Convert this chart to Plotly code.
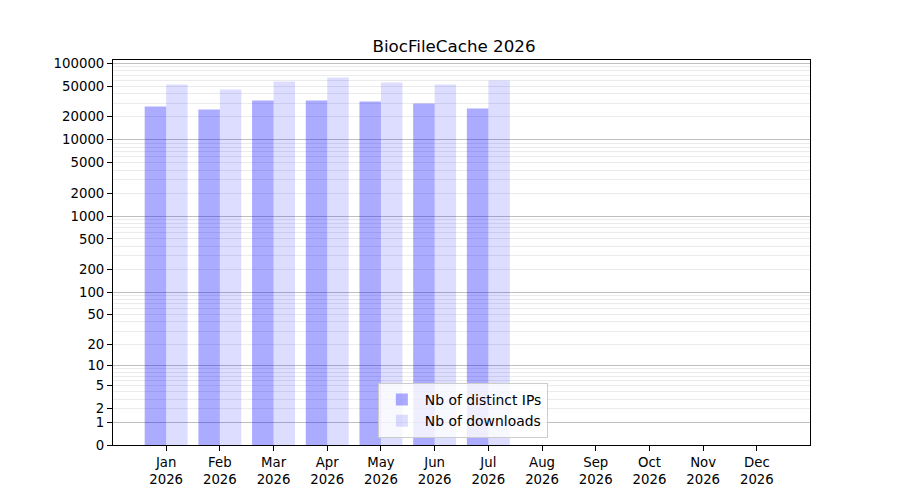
import plotly.graph_objects as go

months = ["Jan", "Feb", "Mar", "Apr", "May", "Jun", "Jul", "Aug", "Sep", "Oct", "Nov", "Dec"]
year = "2026"
nb_ips = [27200, 24900, 32600, 32600, 31700, 29800, 25600, None, None, None, None, None]
nb_downloads = [52900, 45500, 57900, 65300, 56200, 52900, 59700, None, None, None, None, None]

tick_values = [0, 1, 2, 5, 10, 20, 50, 100, 200, 500, 1000, 2000, 5000, 10000, 20000, 50000, 100000]
decades = [1, 10, 100, 1000, 10000, 100000]

# axis is log10(x + 1), so shift everything by one
def shift(vals):
    return [None if v is None else v + 1 for v in vals]

minor_vals = []
for d in decades[:-1]:
    for k in range(2, 10):
        minor_vals.append(d * k + 1)

labels = [m + "<br>" + year for m in months]
font = "DejaVu Sans"

fig = go.Figure()
fig.add_trace(go.Bar(x=labels, y=shift(nb_ips), name="Nb of distinct IPs",
                     marker=dict(color="rgba(0,0,255,0.33)", line=dict(width=0))))
fig.add_trace(go.Bar(x=labels, y=shift(nb_downloads), name="Nb of downloads",
                     marker=dict(color="rgba(0,0,255,0.135)", line=dict(width=0))))
# empty trace so the overlay axis (dark decade grid) gets drawn
fig.add_trace(go.Scatter(x=[labels[0]], y=[None], yaxis="y2", showlegend=False, hoverinfo="skip"))

# page body adds 8px, so the figure is a bit smaller than the window
fig.update_layout(
    width=892, height=492,
    margin=dict(l=105, r=90, t=52, b=55),
    plot_bgcolor="white", paper_bgcolor="white",
    font=dict(family=font, size=13.3, color="black"),
    title=dict(text="BiocFileCache 2026", x=0.5, xanchor="center", y=0.923, yanchor="middle",
               font=dict(size=16.7)),
    barmode="group", bargap=0.2, bargroupgap=0,
    showlegend=True,
    legend=dict(x=0.38, y=0.018, xanchor="left", yanchor="bottom",
                bgcolor="rgba(255,255,255,0.8)", bordercolor="#cccccc", borderwidth=1,
                font=dict(size=13.9), traceorder="normal", itemwidth=36),
    xaxis=dict(range=[-0.99, 11.99], showgrid=False, showline=True, linecolor="black",
               mirror=True, ticks="outside", ticklen=5, tickcolor="black", automargin=False),
    yaxis=dict(type="log", range=[0, 5.045], showgrid=False, showline=True,
               linecolor="black", mirror=True, ticks="outside", ticklen=5, tickcolor="black",
               automargin=False,
               tickmode="array", tickvals=shift(tick_values), ticktext=[str(t) for t in tick_values],
               minor=dict(tickmode="array", tickvals=minor_vals, showgrid=True,
                          gridcolor="rgba(0,0,0,0.08)", ticklen=0)),
    yaxis2=dict(type="log", range=[0, 5.045], overlaying="y", showgrid=True,
                gridcolor="rgba(0,0,0,0.25)", tickmode="array", tickvals=shift(decades),
                showticklabels=False, ticks="", showline=False, zeroline=False,
                automargin=False),
)

fig.write_html("out.html")
